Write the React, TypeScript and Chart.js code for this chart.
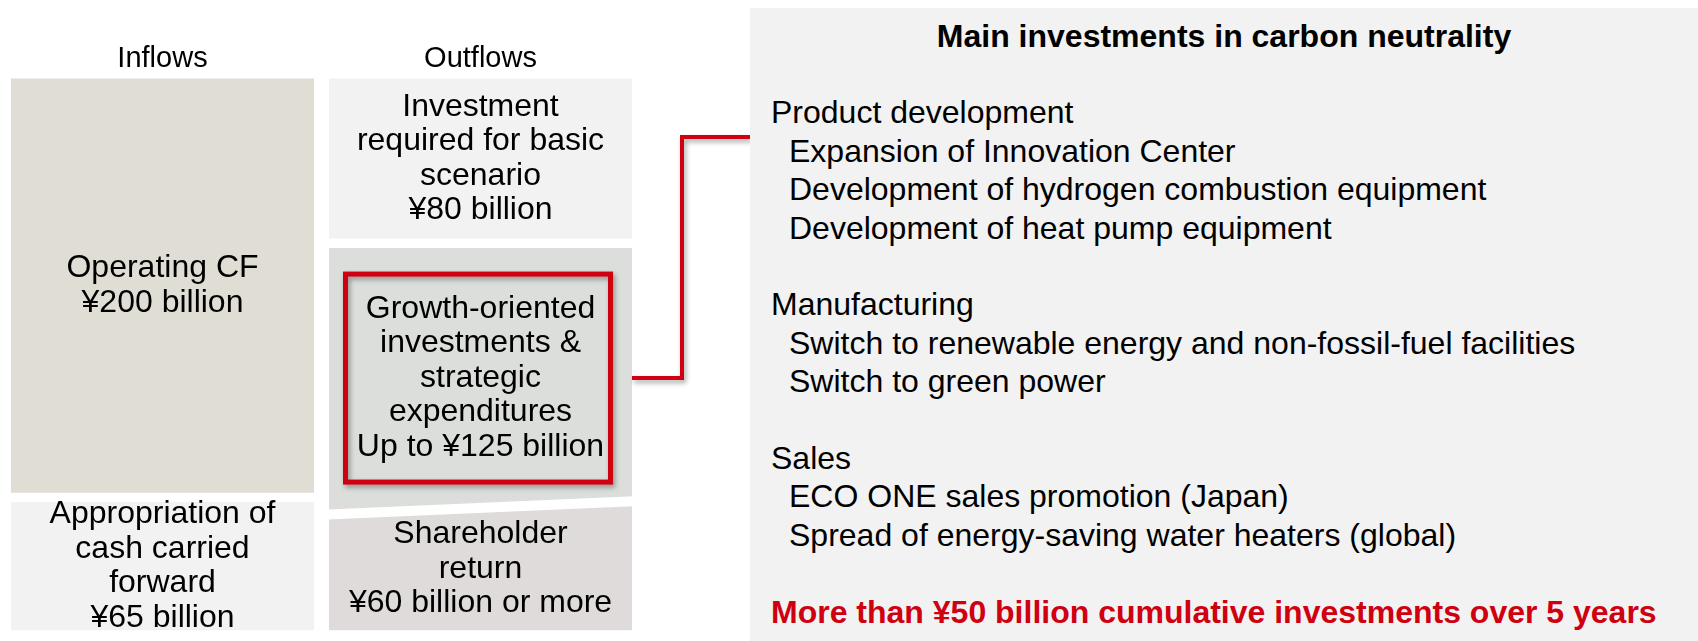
import React, { useEffect, useRef } from "react";
import { Chart, registerables } from "chart.js";

Chart.register(...registerables);

// ---- data ----
const categories = ["Inflows", "Outflows"];
const appropriationValues = [65, null];
const operatingCFValues = [200, null];
const shareholderReturnValues = [null, 60];
const growthInvestmentValues = [null, 125];
const basicInvestmentValues = [null, 80];

const appropriationLabel = ["Appropriation of", "cash carried", "forward", "¥65 billion"];
const operatingCFLabel = ["Operating CF", "¥200 billion"];
const shareholderReturnLabel = ["Shareholder", "return", "¥60 billion or more"];
const growthInvestmentLabel = ["Growth-oriented", "investments &", "strategic", "expenditures", "Up to ¥125 billion"];
const basicInvestmentLabel = ["Investment", "required for basic", "scenario", "¥80 billion"];

const panelTitle = "Main investments in carbon neutrality";
const panelHeadings = ["Product development", "Manufacturing", "Sales"];
const productDevelopmentItems = [
  "Expansion of Innovation Center",
  "Development of hydrogen combustion equipment",
  "Development of heat pump equipment",
];
const manufacturingItems = [
  "Switch to renewable energy and non-fossil-fuel facilities",
  "Switch to green power",
];
const salesItems = [
  "ECO ONE sales promotion (Japan)",
  "Spread of energy-saving water heaters (global)",
];
const panelConclusion = "More than ¥50 billion cumulative investments over 5 years";

// ---- styles ----
const FONT = "'Liberation Sans', Arial, Helvetica, sans-serif";
const RED = "#cf0010";

const diagramPlugin = {
  id: "diagram",
  afterDatasetsDraw(chart: any) {
    const ctx = chart.ctx;
    const growthEl = chart.getDatasetMeta(3).data[1];
    const half = growthEl.width / 2;
    const xl = growthEl.x - half - 1;
    const xr = growthEl.x + half + 1;
    const yb = growthEl.base;
    const tilt = 6.6;
    const gap = 5;

    // slanted white gap between growth and shareholder blocks
    ctx.save();
    ctx.fillStyle = "#ffffff";
    ctx.beginPath();
    ctx.moveTo(xl, yb + tilt - gap);
    ctx.lineTo(xr, yb - tilt - gap);
    ctx.lineTo(xr, yb - tilt + gap);
    ctx.lineTo(xl, yb + tilt + gap);
    ctx.closePath();
    ctx.fill();
    ctx.restore();

    // labels inside blocks
    let growthCy = 0;
    chart.data.datasets.forEach((ds: any, i: number) => {
      const meta = chart.getDatasetMeta(i);
      meta.data.forEach((el: any, j: number) => {
        if (ds.data[j] == null) return;
        const bw = ds.borderWidth;
        const top = Math.min(el.y, el.base) + bw.top;
        const bottom = Math.max(el.y, el.base) - bw.bottom;
        const cy = (top + bottom) / 2;
        if (i === 3) growthCy = cy;
        const lines: string[] = ds.lines;
        const lh = 34.5;
        ctx.save();
        ctx.fillStyle = "#000000";
        ctx.font = `32px ${FONT}`;
        ctx.textAlign = "center";
        ctx.textBaseline = "middle";
        lines.forEach((t, k) => {
          ctx.fillText(t, el.x, cy + (k - (lines.length - 1) / 2) * lh);
        });
        ctx.restore();
      });
    });

    // red highlight box around growth label
    ctx.save();
    ctx.shadowColor = "rgba(0,0,0,0.35)";
    ctx.shadowBlur = 5;
    ctx.shadowOffsetX = 2;
    ctx.shadowOffsetY = 3;
    ctx.strokeStyle = RED;
    ctx.lineWidth = 5;
    ctx.lineJoin = "miter";
    const bwid = 265;
    const bh = 208;
    ctx.strokeRect(growthEl.x - 2.5 - bwid / 2, growthCy - bh / 2, bwid, bh);

    // connector to the panel
    const barRight = growthEl.x + half;
    ctx.lineWidth = 4;
    ctx.beginPath();
    ctx.moveTo(barRight, growthCy);
    ctx.lineTo(barRight + 50, growthCy);
    ctx.lineTo(barRight + 50, 137);
    ctx.lineTo(chart.width, 137);
    ctx.stroke();
    ctx.restore();
  },
};

export default function App() {
  const ref = useRef<HTMLCanvasElement>(null);

  useEffect(() => {
    document.body.style.margin = "0";
    const canvas = ref.current;
    if (!canvas) return;
    const mk = (label: string, data: any[], color: string, lines: string[], bt: number, bb: number) => ({
      label,
      data,
      lines,
      backgroundColor: color,
      borderColor: "#ffffff",
      borderWidth: { top: bt, bottom: bb, left: 0, right: 0 },
      borderSkipped: false,
      barThickness: 303,
    });
    const chart = new Chart(canvas, {
      type: "bar",
      data: {
        labels: categories,
        datasets: [
          mk("Appropriation of cash carried forward", appropriationValues, "#f2f2f2", appropriationLabel, 5, 5),
          mk("Operating CF", operatingCFValues, "#e0ded4", operatingCFLabel, 5, 5),
          mk("Shareholder return", shareholderReturnValues, "#e0dbdb", shareholderReturnLabel, 0, 5),
          mk("Growth-oriented investments & strategic expenditures", growthInvestmentValues, "#dcdedb", growthInvestmentLabel, 5, 0),
          mk("Investment required for basic scenario", basicInvestmentValues, "#f2f2f2", basicInvestmentLabel, 5, 5),
        ] as any,
      },
      options: {
        responsive: false,
        animation: false,
        devicePixelRatio: 1,
        layout: { padding: { top: 45, bottom: 6, left: 3.5, right: 110.5 } },
        plugins: {
          legend: { display: false },
          tooltip: { enabled: false },
        },
        scales: {
          x: {
            stacked: true,
            position: "top",
            grid: { display: false, drawTicks: false },
            border: { display: false },
            ticks: { color: "#000000", padding: -3, font: { family: FONT, size: 29 } },
          },
          y: {
            stacked: true,
            display: false,
            min: 0,
            max: 265,
          },
        },
      },
      plugins: [diagramPlugin],
    } as any);
    return () => chart.destroy();
  }, []);

  const groups = [
    { heading: panelHeadings[0], items: productDevelopmentItems },
    { heading: panelHeadings[1], items: manufacturingItems },
    { heading: panelHeadings[2], items: salesItems },
  ];

  return (
    <div style={{ position: "relative", width: 1698, height: 641, background: "#ffffff", overflow: "hidden", fontFamily: FONT }}>
      <canvas ref={ref} width={750} height={641} style={{ position: "absolute", left: 0, top: 0, width: 750, height: 641 }} />
      <div
        style={{
          position: "absolute",
          left: 750,
          top: 8,
          width: 948,
          height: 633,
          boxSizing: "border-box",
          paddingTop: 8.5,
          background: "#f2f2f2",
          color: "#000000",
          fontSize: 32,
          lineHeight: "38.4px",
          whiteSpace: "nowrap",
        }}
      >
        <div style={{ fontWeight: "bold", textAlign: "center" }}>{panelTitle}</div>
        <div>&nbsp;</div>
        {groups.map((g) => (
          <div key={g.heading}>
            <div style={{ paddingLeft: 21 }}>{g.heading}</div>
            {g.items.map((it) => (
              <div key={it} style={{ paddingLeft: 39 }}>{it}</div>
            ))}
            <div>&nbsp;</div>
          </div>
        ))}
        <div style={{ paddingLeft: 21, fontWeight: "bold", color: RED }}>{panelConclusion}</div>
      </div>
    </div>
  );
}
